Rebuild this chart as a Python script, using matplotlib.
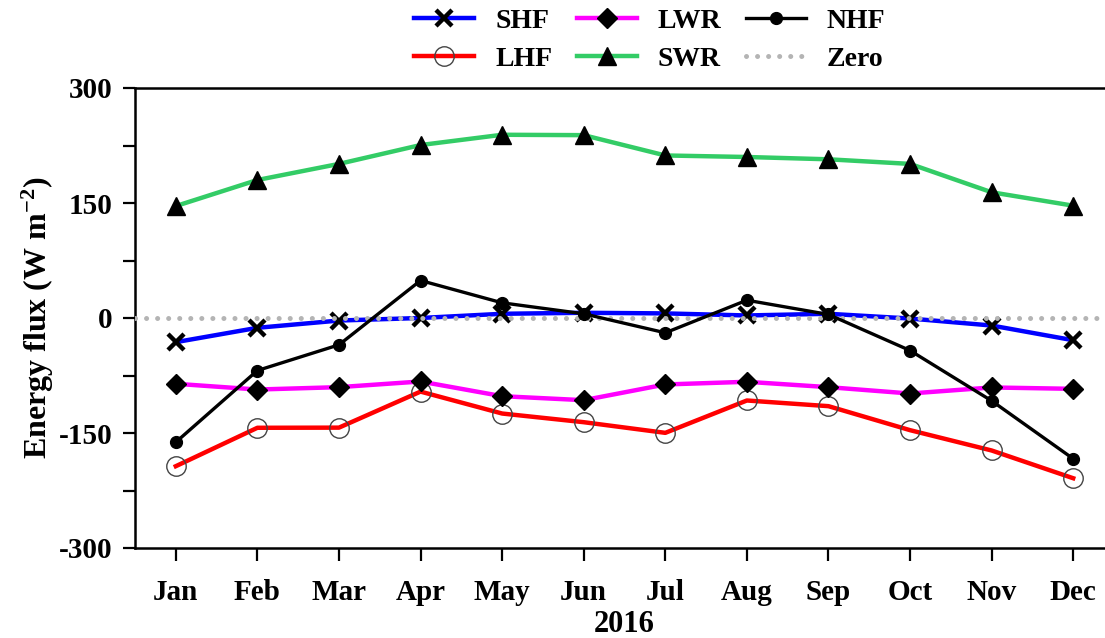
import matplotlib
matplotlib.use("Agg")
import matplotlib.pyplot as plt
from matplotlib.ticker import MultipleLocator, FuncFormatter

# Monthly mean surface energy budget components, 2016 (W m-2)
months = ["Jan", "Feb", "Mar", "Apr", "May", "Jun",
          "Jul", "Aug", "Sep", "Oct", "Nov", "Dec"]
shf = [-31.5, -12.8, -3.3, 0.0, 5.5, 6.8, 6.0, 3.3, 5.5, -0.7, -9.8, -29.0]
lhf = [-193.3, -143.2, -143.0, -96.0, -124.6, -135.9,
       -149.8, -107.6, -115.0, -146.3, -172.8, -209.0]
lwr = [-85.8, -93.3, -90.2, -82.8, -102.0, -107.2,
       -86.7, -83.2, -90.2, -98.5, -90.6, -92.4]
swr = [146.0, 180.0, 201.0, 225.6, 239.0, 238.5,
       212.0, 210.0, 207.0, 201.0, 164.0, 146.5]
nhf = [-162.0, -68.5, -35.0, 48.9, 19.8, 5.5,
       -19.3, 23.2, 4.6, -42.4, -108.0, -183.6]

plt.rcParams["font.family"] = ["Liberation Serif", "DejaVu Serif"]
plt.rcParams["font.weight"] = "bold"
plt.rcParams["mathtext.fontset"] = "custom"
plt.rcParams["mathtext.rm"] = "Liberation Serif:bold"
plt.rcParams["mathtext.bf"] = "Liberation Serif:bold"
plt.rcParams["mathtext.it"] = "Liberation Serif:bold"

fig = plt.figure(figsize=(11.05, 6.38), dpi=100)
ax = fig.add_axes([135 / 1105, 90 / 638, 979 / 1105, 460 / 638])

x = list(range(len(months)))

ax.plot(x, shf, color="#0000ff", lw=3.2, marker="x", ms=11, mew=3.2,
        mec="black", label="SHF", zorder=3)
ax.plot(x, lhf, color="#ff0000", lw=3.2, marker="o", ms=14, mfc="none",
        mec="#444444", mew=1.0, label="LHF", zorder=3)
ax.plot(x, lwr, color="#ff00ff", lw=3.2, marker="D", ms=10, mfc="black",
        mec="black", label="LWR", zorder=3)
ax.plot(x, swr, color="#33cc66", lw=3.2, marker="^", ms=13, mfc="black",
        mec="black", label="SWR", zorder=3)
ax.plot(x, nhf, color="black", lw=2.4, marker="o", ms=8.5, mfc="black",
        mec="black", label="NHF", zorder=5)
ax.axhline(0, color="#b4b4b4", lw=3.6, ls=(0, (0.01, 2.2)),
           dash_capstyle="round", label="Zero", zorder=4)

ax.set_xlim(-0.5, 11.5)
ax.set_ylim(-300, 300)
ax.set_xticks(x)
ax.set_xticklabels(months)
ax.yaxis.set_major_locator(MultipleLocator(75))
ax.yaxis.set_major_formatter(
    FuncFormatter(lambda v, p: f"{int(v)}" if abs(v) % 150 == 0 else ""))

for s in ax.spines.values():
    s.set_linewidth(1.8)
ax.tick_params(axis="both", direction="out", length=9, width=1.6,
               labelsize=21)
ax.tick_params(axis="x", pad=13)
ax.tick_params(axis="y", pad=7)

ax.set_xlabel("2016", fontsize=22, fontweight="bold", labelpad=3)
ax.set_ylabel("Energy flux (W m$^{-2}$)", fontsize=23, fontweight="bold",
              labelpad=2)

handles, labels = ax.get_legend_handles_labels()
order = ["SHF", "LHF", "LWR", "SWR", "NHF", "Zero"]
hmap = dict(zip(labels, handles))
leg = fig.legend([hmap[k] for k in order], order, ncol=3,
                 loc="upper center", bbox_to_anchor=(650 / 1105, 1.0),
                 frameon=False, fontsize=20, handlelength=2.15,
                 handletextpad=0.75, columnspacing=0.9, labelspacing=0.45,
                 borderaxespad=0.0, borderpad=0.3, numpoints=1)

fig.savefig("out.png", dpi=100)
